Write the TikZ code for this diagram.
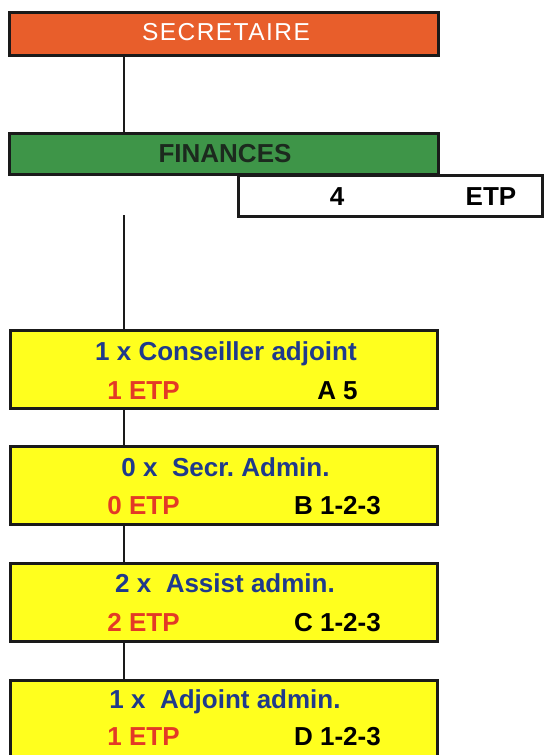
\documentclass[tikz,border=0pt]{standalone}
\usepackage{fontspec}
\setmainfont{Liberation Sans}
\frenchspacing
\definecolor{orangebox}{HTML}{E85E2B}
\definecolor{greenbox}{HTML}{3E9548}
\definecolor{yellowbox}{HTML}{FFFF1E}
\definecolor{bluetxt}{HTML}{1F3A8C}
\definecolor{redtxt}{HTML}{E33A26}
\definecolor{darktxt}{HTML}{1C2A1E}
\definecolor{edge}{HTML}{1A1A1A}
\begin{document}
\begin{tikzpicture}[x=1pt,y=-1pt,
  boxstyle/.style={draw=edge,line width=3pt,inner sep=0,minimum width=#1},
  boxstyle/.default=427pt,
  txt/.style={inner sep=0,anchor=base,font=\fontsize{26}{30}\selectfont\bfseries},
  conn/.style={draw=edge,line width=2pt}]
\useasboundingbox (0,0) rectangle (544,755);
\clip (0,0) rectangle (544,755);
% top boxes
\node[boxstyle=429pt,fill=orangebox,minimum height=43pt] (sec) at (224,34) {};
\node[boxstyle=429pt,fill=greenbox,minimum height=41pt] (fin) at (224,154) {};
\node[boxstyle=304pt,fill=white,minimum height=41pt] (etp) at (390,196) {};
\node[inner sep=0,anchor=base,text=white,font=\fontsize{24.5}{30}\selectfont\addfontfeature{LetterSpace=6}] (sectxt) at (226,40.5) {SECRETAIRE};
\node[txt,text=darktxt] (fintxt) at (225,162) {FINANCES};
\node[txt,text=black] (etpn) at (337,205) {4};
\node[txt,text=black] (etpt) at (491,205) {ETP};
% yellow boxes
\node[boxstyle,fill=yellowbox,minimum height=78pt] (b1) at (224,369) {};
\node[boxstyle,fill=yellowbox,minimum height=78pt] (b2) at (224,485.5) {};
\node[boxstyle,fill=yellowbox,minimum height=78pt] (b3) at (224,602) {};
\node[boxstyle,fill=yellowbox,minimum height=78pt] (b4) at (224,719) {};
% texts
\node[txt,text=bluetxt] (t1a) at (226,360) {1 x Conseiller adjoint};
\node[txt,text=redtxt] (t1b) at (143.5,399) {1 ETP};
\node[txt,text=black] (t1c) at (337.5,399) {A 5};
\node[txt,text=bluetxt] (t2a) at (225.5,476) {0 x\ \ Secr. Admin.};
\node[txt,text=redtxt] (t2b) at (143.5,514) {0 ETP};
\node[txt,text=black] (t2c) at (337.5,514) {B 1-2-3};
\node[txt,text=bluetxt] (t3a) at (225,592) {2 x\ \ Assist admin.};
\node[txt,text=redtxt] (t3b) at (143.5,631) {2 ETP};
\node[txt,text=black] (t3c) at (337.5,631) {C 1-2-3};
\node[txt,text=bluetxt] (t4a) at (225,708) {1 x\ \ Adjoint admin.};
\node[txt,text=redtxt] (t4b) at (143.5,745) {1 ETP};
\node[txt,text=black] (t4c) at (337.5,745) {D 1-2-3};
% connectors
\coordinate (c0) at (124,215);
\draw[conn] (sec.south -| c0) -- (fin.north -| c0);
\draw[conn] (c0) -- (b1.north -| c0);
\draw[conn] (b1.south -| c0) -- (b2.north -| c0);
\draw[conn] (b2.south -| c0) -- (b3.north -| c0);
\draw[conn] (b3.south -| c0) -- (b4.north -| c0);
\end{tikzpicture}
\end{document}
